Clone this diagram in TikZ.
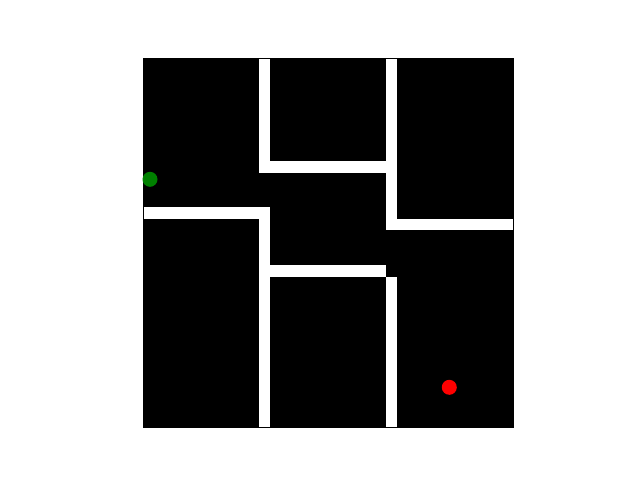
\documentclass[tikz,border=0pt]{standalone}
\begin{document}
\begin{tikzpicture}[x=1pt,y=-1pt,
  wall/.style={fill=white},
  dot/.style={circle,inner sep=0pt,minimum size=15pt}]
\useasboundingbox (0,0) rectangle (640,480);
\fill[white] (0,0) rectangle (640,480);
\fill[black] (142.7,57.7) rectangle (514,427.7);
% walls
\fill[wall] (259,59) rectangle (270,172.7);
\fill[wall] (259,160.7) rectangle (386,172.7);
\fill[wall] (386,59) rectangle (397,229.7);
\fill[wall] (386,219) rectangle (513,229.7);
\fill[wall] (144,207) rectangle (270,219);
\fill[wall] (259,207) rectangle (270,426.7);
\fill[wall] (259,265) rectangle (386,277);
\fill[wall] (386,277) rectangle (397,426.7);
% markers
\node[dot,fill=green!50!black] (start) at (150,179.3) {};
\node[dot,fill=red] (goal) at (449.3,387.3) {};
\end{tikzpicture}
\end{document}
